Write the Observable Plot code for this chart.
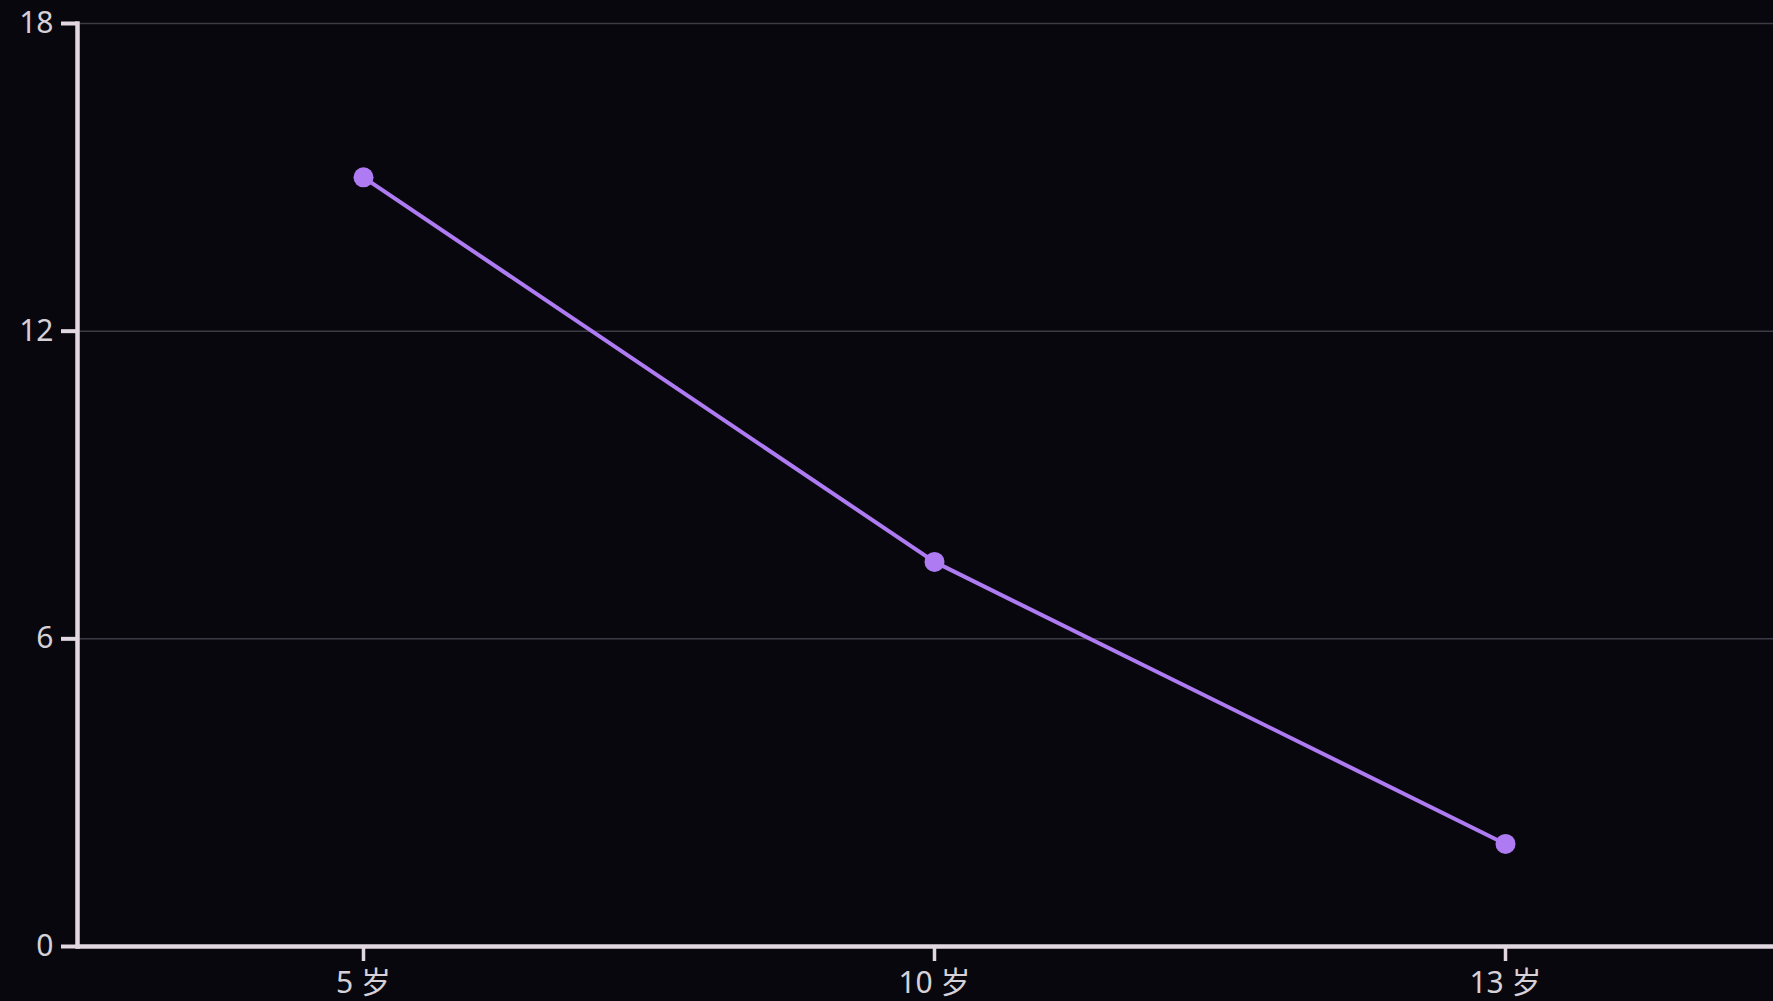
<!DOCTYPE html>
<html><head><meta charset="utf-8">
<script src="https://cdn.jsdelivr.net/npm/d3@7"></script>
<script src="https://cdn.jsdelivr.net/npm/@observablehq/plot@0.6"></script>
<style>html,body{margin:0;padding:0;background:#08070d;overflow:hidden}
#chart svg{max-width:none !important;height:1001px !important;display:block}</style>
</head><body><div id="chart"></div>
<script>
const ages = ["5 岁", "10 岁", "13 岁"];
const values = [15, 7.5, 2];
const yTicks = [0, 6, 12, 18];
const data = ages.map((a, i) => ({age: a, value: values[i]}));
const lineColor = "#ae7bf2";
const axisColor = "#e2d8e2";
const chart = Plot.plot({
  width: 1790, height: 1001,
  marginLeft: 77, marginRight: 0, marginTop: 23, marginBottom: 55,
  style: {background: "#08070d", color: "#d6d0d8", fontFamily: "'Noto Sans','Noto Sans CJK SC',sans-serif", fontSize: "30px"},
  x: {type: "point", domain: ages, padding: 0.5, label: null},
  y: {domain: [0, 18], ticks: yTicks, label: null},
  marks: [
    Plot.gridY(yTicks, {stroke: "#3c3a44", strokeOpacity: 1, strokeWidth: 1.5}),
    Plot.frame({anchor: "left", stroke: axisColor, strokeWidth: 4.5}),
    Plot.ruleY([0], {stroke: axisColor, strokeWidth: 4.5}),
    Plot.axisY(yTicks, {tickSize: 16, tickPadding: 8, stroke: axisColor, strokeWidth: 4, fill: "#d6d0d8", label: null, tickFormat: d => String(d)}),
    Plot.axisX(ages, {tickSize: 15, tickPadding: 10, stroke: axisColor, strokeWidth: 3.5, fill: "#d6d0d8", label: null}),
    Plot.line(data, {x: "age", y: "value", stroke: lineColor, strokeWidth: 4}),
    Plot.dot(data, {x: "age", y: "value", r: 10, fill: lineColor, stroke: null})
  ]
});
document.getElementById("chart").append(chart);
</script>
</body></html>
